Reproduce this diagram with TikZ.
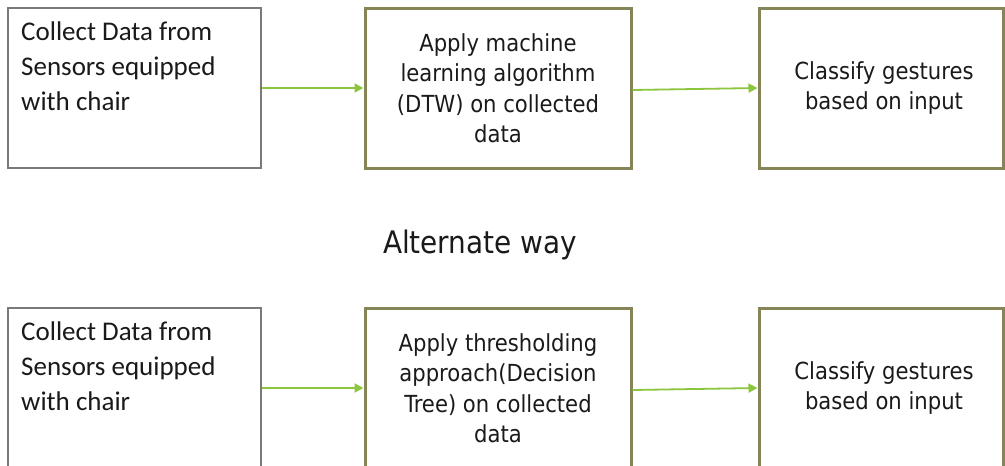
\documentclass[tikz,border=0pt]{standalone}
\usepackage{fontspec}
\setmainfont{Carlito}
\newfontfamily\boxfont{Carlito}
\newfontfamily\tahfont{DejaVu Sans Condensed}
\usetikzlibrary{arrows.meta}
\definecolor{olivebd}{HTML}{858558}
\definecolor{graybd}{HTML}{7A7A7A}
\definecolor{arrgreen}{HTML}{8CC63F}
\definecolor{txt}{HTML}{1A1A1A}
\tikzset{
  plainbox/.style={draw=graybd, line width=1.3pt, minimum width=253pt, minimum height=160pt, inner sep=0pt},
  olivebox/.style={draw=olivebd, line width=3pt, minimum height=160pt, inner sep=0pt, text=txt,
     font=\tahfont\fontsize{23.5}{30.5}\selectfont, align=center},
  lefttext/.style={anchor=north west, inner sep=0pt, text=txt, align=left,
     font=\boxfont\fontsize{27}{35}\selectfont},
  arr/.style={draw=arrgreen, line width=1.8pt, -{Triangle[length=9pt,width=9pt]}},
  heading/.style={text=txt, font=\tahfont\fontsize{31}{36}\selectfont}
}
\begin{document}
\begin{tikzpicture}[x=1pt,y=-1pt]
\useasboundingbox (0,0) rectangle (1005,466);
\fill[white] (0,0) rectangle (1005,466);
% top row
\node[plainbox] (a1) at (134.5,88) {};
\node[lefttext] (ta1) at (21,22) {Collect Data from\\Sensors equipped\\with chair};
\node[olivebox, minimum width=266pt] (b1) at (498,88) {Apply machine\\learning algorithm\\(DTW) on collected\\data};
\node[olivebox, minimum width=244pt] (c1) at (881,88) {\hspace*{6pt}Classify gestures\\\hspace*{6pt}based on input};
\draw[arr] (a1.east) -- (b1.west);
\draw[arr] ([yshift=-2pt]b1.east) -- (c1.west);
% heading
\node[heading] (alt) at (480,245) {Alternate way};
% bottom row
\node[plainbox] (a2) at (134.5,388) {};
\node[lefttext] (ta2) at (21,322) {Collect Data from\\Sensors equipped\\with chair};
\node[olivebox, minimum width=266pt] (b2) at (498,388) {Apply thresholding\\approach(Decision\\Tree) on collected\\data};
\node[olivebox, minimum width=244pt] (c2) at (881,388) {\hspace*{6pt}Classify gestures\\\hspace*{6pt}based on input};
\draw[arr] (a2.east) -- (b2.west);
\draw[arr] ([yshift=-2pt]b2.east) -- (c2.west);
\end{tikzpicture}
\end{document}
